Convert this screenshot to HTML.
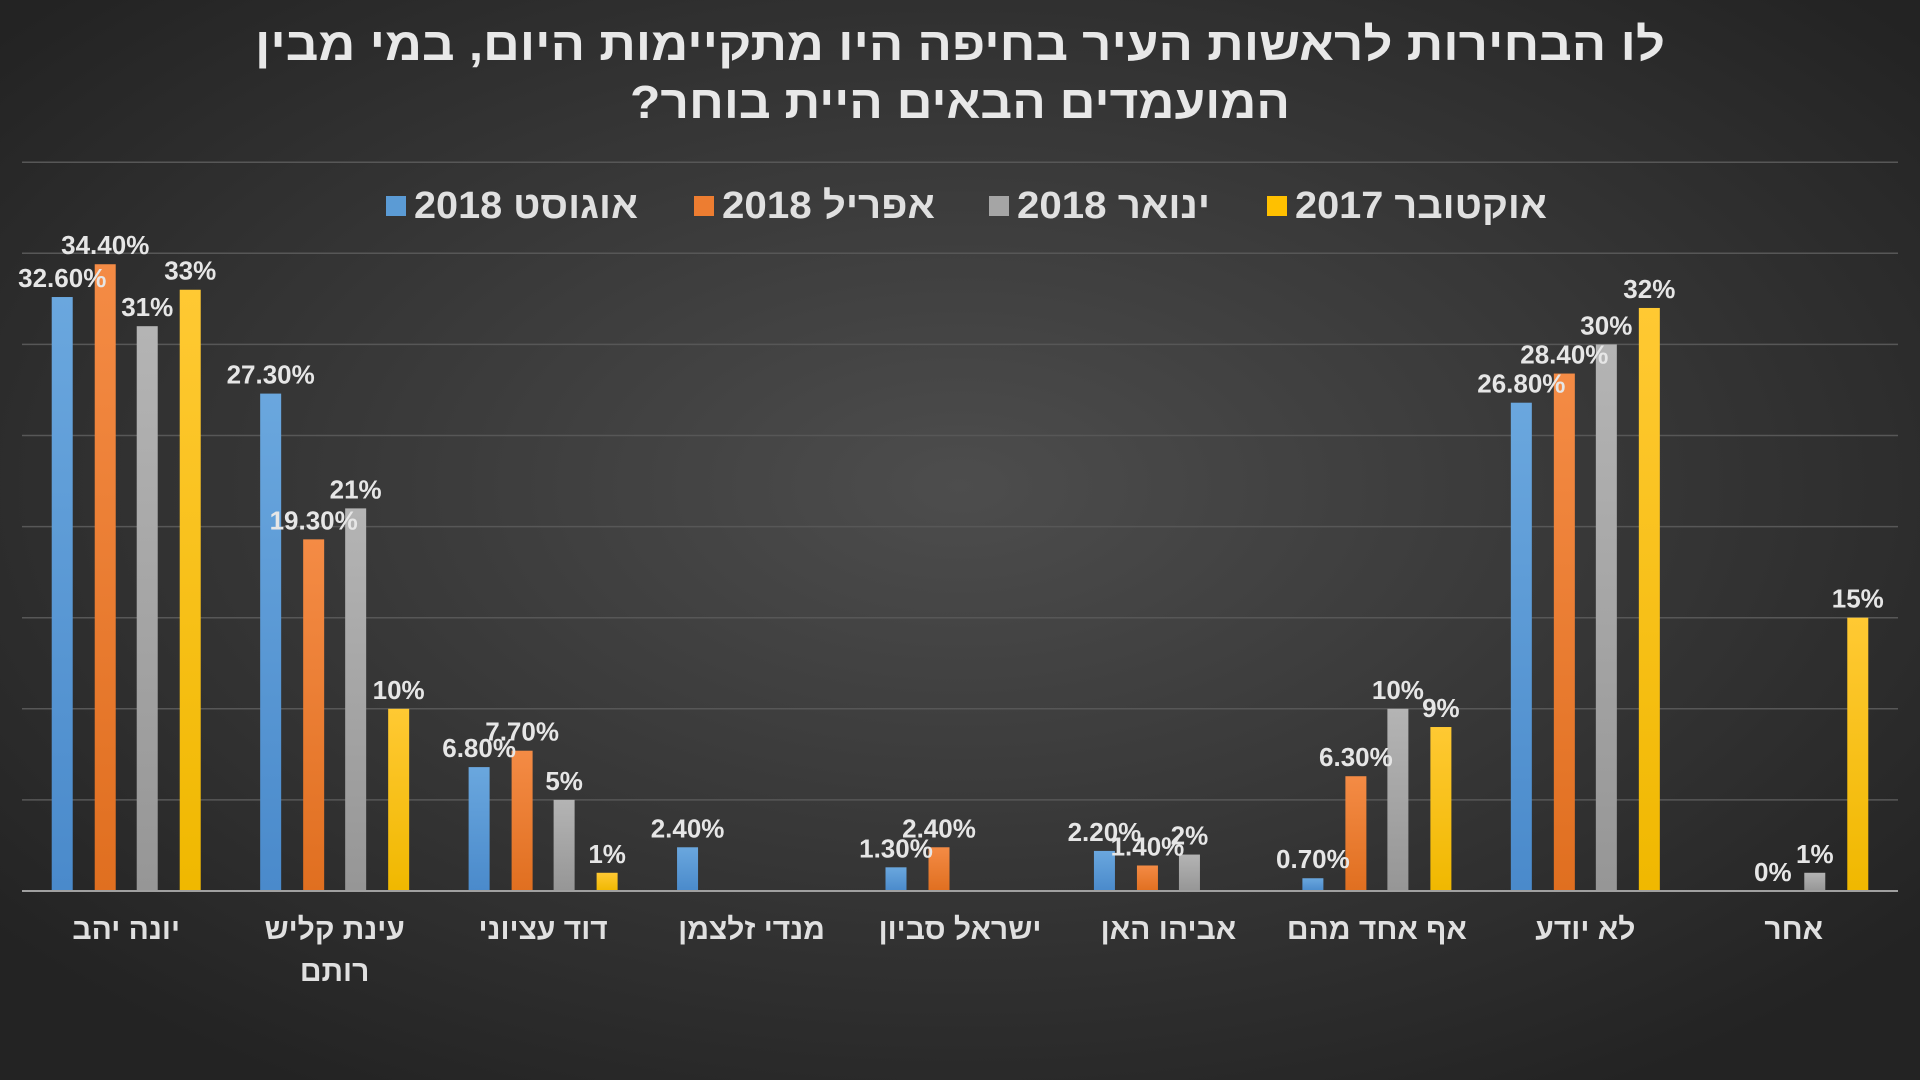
<!DOCTYPE html>
<html><head><meta charset="utf-8">
<style>
html,body{margin:0;padding:0;width:1920px;height:1080px;overflow:hidden;background:#2a2a2a;}
svg{display:block;font-family:"Liberation Sans","DejaVu Sans",sans-serif;}
</style></head>
<body>
<svg id="chart" width="1920" height="1080" viewBox="0 0 1920 1080">
<defs>
<radialGradient id="bg" cx="50%" cy="45%" r="65%">
<stop offset="0" stop-color="#4d4d4d"/><stop offset="1" stop-color="#232323"/>
</radialGradient>
<linearGradient id="g0" x1="0" y1="0" x2="0" y2="1"><stop offset="0" stop-color="#6aa7de"/><stop offset="1" stop-color="#4a8acb"/></linearGradient>
<linearGradient id="g1" x1="0" y1="0" x2="0" y2="1"><stop offset="0" stop-color="#f48b45"/><stop offset="1" stop-color="#e06f20"/></linearGradient>
<linearGradient id="g2" x1="0" y1="0" x2="0" y2="1"><stop offset="0" stop-color="#b4b4b4"/><stop offset="1" stop-color="#969696"/></linearGradient>
<linearGradient id="g3" x1="0" y1="0" x2="0" y2="1"><stop offset="0" stop-color="#ffc933"/><stop offset="1" stop-color="#f0b800"/></linearGradient>
</defs>
<rect width="1920" height="1080" fill="url(#bg)"/>
<g fill="#e8e8e8" font-weight="bold" font-size="46" text-anchor="middle" direction="rtl">
<text x="960" y="60" textLength="1410" lengthAdjust="spacingAndGlyphs">לו הבחירות לראשות העיר בחיפה היו מתקיימות היום, במי מבין</text>
<text x="960" y="118" textLength="660" lengthAdjust="spacingAndGlyphs">המועמדים הבאים היית בוחר?</text>
</g>
<g id="grid"></g>
<g id="legend"></g>
<g id="bars"></g>
<g id="labels"></g>
<g id="xaxis"></g>
</svg>
<script>
const categories = [["יונה יהב"],["עינת קליש","רותם"],["דוד עציוני"],["מנדי זלצמן"],["ישראל סביון"],["אביהו האן"],["אף אחד מהם"],["לא יודע"],["אחר"]];
const seriesNames = ["אוגוסט 2018","אפריל 2018","ינואר 2018","אוקטובר 2017"];
const aug2018 = [32.6,27.3,6.8,2.4,1.3,2.2,0.7,26.8,null];
const apr2018 = [34.4,19.3,7.7,null,2.4,1.4,6.3,28.4,0];
const jan2018 = [31,21,5,null,null,2,10,30,1];
const oct2017 = [33,10,1,null,null,null,9,32,15];
const augLabels = ["32.60%","27.30%","6.80%","2.40%","1.30%","2.20%","0.70%","26.80%",""];
const aprLabels = ["34.40%","19.30%","7.70%","","2.40%","1.40%","6.30%","28.40%","0%"];
const janLabels = ["31%","21%","5%","","","2%","10%","30%","1%"];
const octLabels = ["33%","10%","1%","","","","9%","32%","15%"];
const gridTicks = [5,10,15,20,25,30,35,40];

const series=[aug2018,apr2018,jan2018,oct2017];
const labels=[augLabels,aprLabels,janLabels,octLabels];
const colors=["#5b9bd5","#ed7d31","#a5a5a5","#ffc000"];
const NS="http://www.w3.org/2000/svg";
const plotL=22, plotR=1898, base=891, pxPer=18.22;
const catW=(plotR-plotL)/categories.length;
const y=v=>base-v*pxPer;
const xc=i=>plotL+catW*(i+0.5);
const offs=[-64,-21,21,64], bw=21;
function mk(t,a,p){const e=document.createElementNS(NS,t);for(const k in a)e.setAttribute(k,a[k]);p.appendChild(e);return e;}
const grid=document.getElementById('grid');
gridTicks.forEach(t=>{
  const l=mk('line',{x1:plotL,x2:plotR,y1:y(t),y2:y(t),stroke:'#575757','stroke-width':1.5},grid);
  
  
});
const bl=mk('line',{x1:plotL,x2:plotR,y1:base,y2:base,stroke:'#a0a0a0','stroke-width':2},document.getElementById('xaxis'));


const bars=document.getElementById('bars'), lab=document.getElementById('labels');
series.forEach((s,si)=>{
  s.forEach((v,i)=>{
    if(v===null)return;
    const x=xc(i)+offs[si];
    if(v>0){
      const r=mk('rect',{x:x-bw/2,y:y(v),width:bw,height:base-y(v),fill:'url(#g'+si+')'},bars);
      
      
    }
    const t=mk('text',{x:x,y:y(v)-10,fill:'#e6e6e6','font-size':26,'font-weight':'bold','text-anchor':'middle'},lab);
    t.textContent=labels[si][i];
    
    
  });
});
const xa=document.getElementById('xaxis');
categories.forEach((c,i)=>{
  c.forEach((ln,j)=>{
    const t=mk('text',{x:xc(i),y:939+j*42,fill:'#e0e0e0','font-size':30,'font-weight':'bold','text-anchor':'middle',direction:'rtl'},xa);
    t.textContent=ln;
    
    
  });
});
const lg=document.getElementById('legend');
const sq=[386,694,989,1267], te=[640,937,1212,1549];
seriesNames.forEach((n,i)=>{
  const r=mk('rect',{x:sq[i],y:196,width:20,height:20,fill:colors[i]},lg);
  
  
  const t=mk('text',{x:te[i],y:218,fill:'#e0e0e0','font-size':38,'font-weight':'bold','text-anchor':'start',direction:'rtl',textLength:te[i]-sq[i]-30,lengthAdjust:'spacingAndGlyphs'},lg);
  t.setAttribute('text-anchor','end');
  t.setAttribute('x',sq[i]+28);
  t.textContent=n;
  
  
});
</script>
</body></html>
